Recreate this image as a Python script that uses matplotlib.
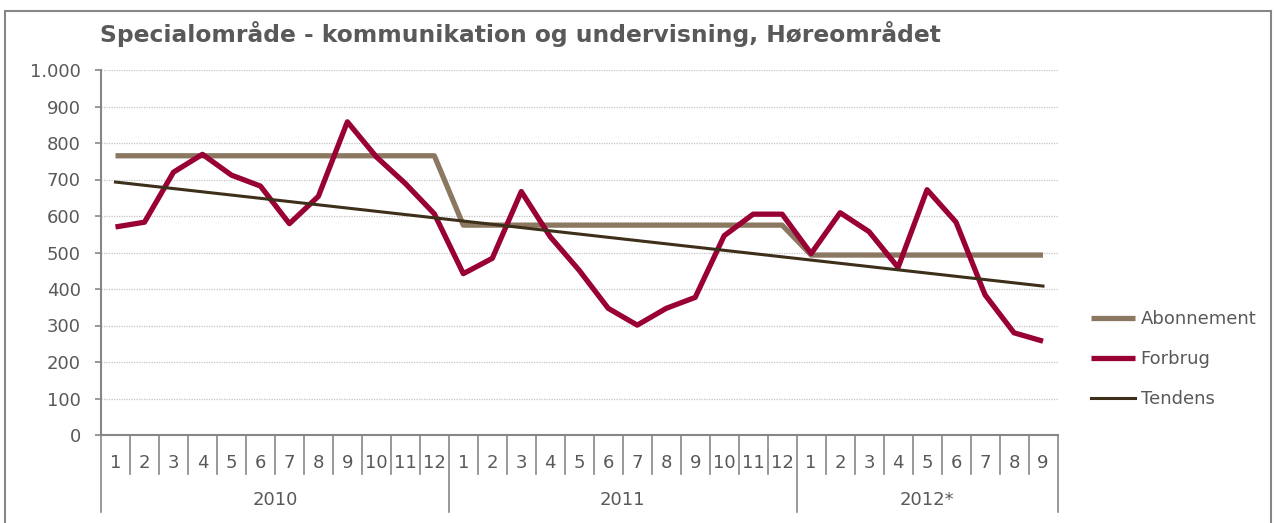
import numpy as np
import matplotlib
matplotlib.use("Agg")
import matplotlib.pyplot as plt
from matplotlib.patches import Rectangle
import matplotlib.transforms as mtransforms

# data
years = ["2010", "2011", "2012*"]
months_per_year = [12, 12, 9]
abonnement = [765] * 12 + [575] * 12 + [493] * 9
forbrug = [570, 583, 720, 769, 712, 682, 579, 654, 858, 762, 689, 606,
           442, 484, 667, 543, 451, 347, 301, 347, 377, 546, 605, 605,
           497, 609, 557, 459, 672, 583, 384, 280, 257]
tendens_ends = [693, 408]  # trend line, first and last month
y_ticks = [0, 100, 200, 300, 400, 500, 600, 700, 800, 900, 1000]
y_ticklabels = ["0", "100", "200", "300", "400", "500", "600", "700", "800", "900", "1.000"]

W, H = 1274, 523
text_col = "#595959"
axis_col = "#868686"
fs = 13

plt.rcParams["font.family"] = ["DejaVu Sans"]

fig = plt.figure(figsize=(W / 100, H / 100), dpi=100)
ax = fig.add_axes([101 / W, 1 - 435 / H, (1057.5 - 101) / W, 365 / H])

n = len(forbrug)
x = np.arange(n)

ax.plot(x, abonnement, color="#8C7861", lw=3.8, label="Abonnement", solid_capstyle="butt", zorder=3)
ax.plot(x, forbrug, color="#990033", lw=3.8, label="Forbrug", solid_capstyle="butt", zorder=4)
ax.plot([x[0], x[-1]], tendens_ends, color="#3D2F1A", lw=2.2, label="Tendens", zorder=5)

ax.set_xlim(-0.5, n - 0.5)
ax.set_ylim(0, 1000)
ax.set_yticks(y_ticks)
ax.set_yticklabels(y_ticklabels, fontsize=fs, color=text_col)
ax.tick_params(axis="y", length=4.5, width=1.2, color=axis_col, pad=10)
ax.set_xticks([])
ax.yaxis.grid(True, linestyle=(0, (1, 1)), color="#C4C4C4", lw=0.9)
ax.set_axisbelow(True)
for s in ["top", "right"]:
    ax.spines[s].set_visible(False)
for s in ["left", "bottom"]:
    ax.spines[s].set_color(axis_col)
    ax.spines[s].set_linewidth(1.5)

# two-level category axis: months in boxes, years below
trans = mtransforms.blended_transform_factory(ax.transData, ax.transAxes)
month_sep = -39 / 365
year_sep = -77 / 365
pos = 0
for year, cnt in zip(years, months_per_year):
    for m in range(cnt):
        ax.text(pos + m, -28 / 365, str(m + 1), transform=trans, ha="center", va="center",
                fontsize=fs, color=text_col)
        if m > 0:
            ax.plot([pos + m - 0.5] * 2, [0, month_sep], transform=trans, color=axis_col,
                    lw=1.2, clip_on=False)
    ax.plot([pos - 0.5] * 2, [0, year_sep], transform=trans, color=axis_col, lw=1.2, clip_on=False)
    ax.text(pos + (cnt - 1) / 2, -65 / 365, year, transform=trans, ha="center", va="center",
            fontsize=fs, color=text_col)
    pos += cnt
ax.plot([pos - 0.5] * 2, [0, year_sep], transform=trans, color=axis_col, lw=1.2, clip_on=False)

fig.text(100 / W, 1 - 42 / H, "Specialområde - kommunikation og undervisning, Høreområdet",
         fontsize=16.8, fontweight="bold", color=text_col, va="baseline")

leg = ax.legend(loc="center left", bbox_to_anchor=(1091 / W, 1 - 359 / H),
                bbox_transform=fig.transFigure, frameon=False, fontsize=fs,
                handlelength=2.45, handletextpad=0.3, labelspacing=1.22,
                borderpad=0, borderaxespad=0)
for t in leg.get_texts():
    t.set_color(text_col)

fig.patches.append(Rectangle((5 / W, -0.05), (1271 - 5) / W, 1.05 - 11 / H,
                             transform=fig.transFigure, fill=False,
                             edgecolor=axis_col, lw=1.5))

fig.savefig("out.png", dpi=100)
